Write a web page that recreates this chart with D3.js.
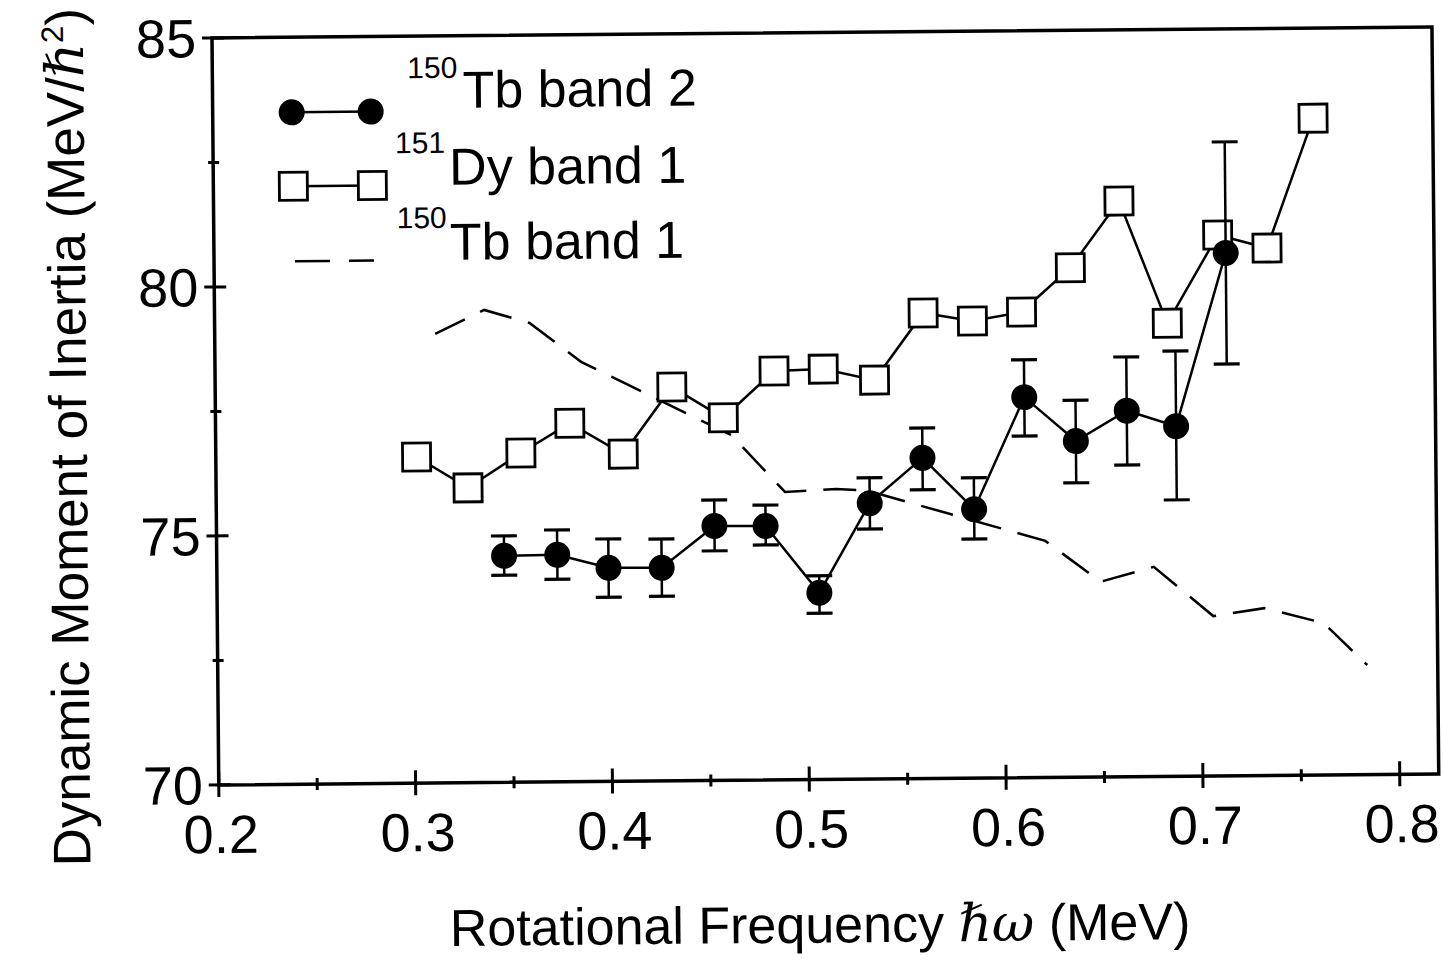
<!DOCTYPE html>
<html>
<head>
<meta charset="utf-8">
<script src="https://cdn.jsdelivr.net/npm/d3@7"></script>
<style>
  body { margin: 0; background: #fff; }
  text { font-family: "Liberation Sans", Arial, sans-serif; fill: #000; }
</style>
</head>
<body>
<div id="chart"></div>
<script>
//Datos
//151Dy band 1 (cuadrados)
const dyX = [0.302, 0.328, 0.355, 0.380, 0.407, 0.432, 0.458, 0.484, 0.509, 0.535, 0.560, 0.585, 0.610, 0.635, 0.660, 0.684, 0.710, 0.735, 0.759];
const dyY = [76.55, 75.92, 76.61, 77.20, 76.57, 77.91, 77.28, 78.21, 78.24, 78.01, 79.35, 79.18, 79.35, 80.23, 81.56, 79.10, 80.86, 80.59, 83.19];

//150Tb band 2 (círculos con barras de error)
const tb2X = [0.346, 0.373, 0.399, 0.426, 0.453, 0.479, 0.506, 0.532, 0.559, 0.585, 0.611, 0.637, 0.663, 0.688, 0.714];
const tb2Y = [74.55, 74.56, 74.29, 74.28, 75.11, 75.10, 73.75, 75.54, 76.44, 75.40, 77.64, 76.75, 77.35, 77.03, 80.50];
const tb2Hi = [74.95, 75.06, 74.87, 74.86, 75.63, 75.52, 74.09, 76.05, 77.04, 76.03, 78.39, 77.57, 78.43, 78.54, 82.73];
const tb2Lo = [74.16, 74.07, 73.70, 73.71, 74.61, 74.72, 73.34, 75.02, 75.80, 74.80, 76.86, 75.91, 76.26, 75.55, 78.27];

//150Tb band 1 (línea discontinua)
const tb1X = [0.312, 0.337, 0.360, 0.386, 0.462, 0.489, 0.515, 0.531, 0.621, 0.649, 0.676, 0.706, 0.732, 0.762, 0.784];
const tb1Y = [79.02, 79.49, 79.22, 78.43, 76.93, 75.78, 75.83, 75.79, 74.75, 73.92, 74.21, 73.21, 73.36, 73.05, 72.20];

//Ejes
const xMajor = [0.2, 0.3, 0.4, 0.5, 0.6, 0.7, 0.8];
const xMinor = [0.25, 0.35, 0.45, 0.55, 0.65, 0.75];
const yMajor = [70, 75, 80, 85];
const yMinor = [72.5, 77.5, 82.5];

const width = 1443, height = 960;
const plotW = 1220, plotH = 747;

let svg = d3.select('#chart')
    .append('svg')
        .attr('width', width)
        .attr('height', height);

//La figura escaneada está ligeramente girada
let g = svg.append('g')
    .attr('transform', 'translate(212,38) rotate(-0.52)');

let x = d3.scaleLinear().domain([0.2, 0.8]).range([0, 1181]);
let y = d3.scaleLinear().domain([70, 85]).range([plotH, 0]);

//Marco
g.append('rect')
    .attr('x', 0).attr('y', 0)
    .attr('width', plotW).attr('height', plotH)
    .attr('fill', 'none').attr('stroke', '#000').attr('stroke-width', 3.5);

//Marcas del eje X (cruzan el eje)
g.selectAll('.xmaj').data(xMajor).enter().append('line')
    .attr('x1', d => x(d)).attr('x2', d => x(d))
    .attr('y1', plotH - 13).attr('y2', plotH + 12)
    .attr('stroke', '#000').attr('stroke-width', 3);
g.selectAll('.xmin').data(xMinor).enter().append('line')
    .attr('x1', d => x(d)).attr('x2', d => x(d))
    .attr('y1', plotH - 6).attr('y2', plotH + 6)
    .attr('stroke', '#000').attr('stroke-width', 3);
g.selectAll('.xlab').data(xMajor).enter().append('text')
    .attr('x', d => x(d) + 2).attr('y', plotH + 68)
    .attr('text-anchor', 'middle')
    .style('font-size', '54px')
    .text(d => d.toFixed(1));

//Marcas del eje Y
g.selectAll('.ymaj').data(yMajor).enter().append('line')
    .attr('x1', -10).attr('x2', 12)
    .attr('y1', d => y(d)).attr('y2', d => y(d))
    .attr('stroke', '#000').attr('stroke-width', 3);
g.selectAll('.ymin').data(yMinor).enter().append('line')
    .attr('x1', -5).attr('x2', 6)
    .attr('y1', d => y(d)).attr('y2', d => y(d))
    .attr('stroke', '#000').attr('stroke-width', 3);
g.selectAll('.ylab').data(yMajor).enter().append('text')
    .attr('x', -16).attr('y', d => y(d) + 19)
    .attr('text-anchor', 'end')
    .style('font-size', '54px')
    .text(d => d);

//Títulos de ejes
let xt = g.append('text')
    .attr('x', 600).attr('y', 910)
    .attr('text-anchor', 'middle')
    .style('font-size', '52px');
xt.append('tspan').text('Rotational Frequency ');
xt.append('tspan').style('font-family', '"DejaVu Serif", serif').style('font-style', 'italic').text('ℏω');
xt.append('tspan').text(' (MeV)');

let yt = g.append('text')
    .attr('transform', 'translate(-129,398) rotate(-90)')
    .attr('text-anchor', 'middle')
    .style('font-size', '53px');
yt.append('tspan').text('Dynamic Moment of Inertia (MeV/');
yt.append('tspan').style('font-family', '"DejaVu Serif", serif').style('font-style', 'italic').text('ℏ');
yt.append('tspan').attr('dy', -20).style('font-size', '31px').text('2');
yt.append('tspan').attr('dy', 20).text(')');

//150Tb band 1
const tb1 = tb1X.map((d, i) => [d, tb1Y[i]]);
g.append('path')
    .datum(tb1)
    .attr('d', d3.line().x(d => x(d[0])).y(d => y(d[1])))
    .attr('fill', 'none').attr('stroke', '#000').attr('stroke-width', 2.5)
    .attr('stroke-dasharray', '33,17');

//151Dy band 1
const dy = dyX.map((d, i) => [d, dyY[i]]);
g.append('path')
    .datum(dy)
    .attr('d', d3.line().x(d => x(d[0])).y(d => y(d[1])))
    .attr('fill', 'none').attr('stroke', '#000').attr('stroke-width', 2.5);
const sq = 28;
g.selectAll('.sq').data(dy).enter().append('rect')
    .attr('x', d => x(d[0]) - sq / 2).attr('y', d => y(d[1]) - sq / 2)
    .attr('width', sq).attr('height', sq)
    .attr('fill', '#fff').attr('stroke', '#000').attr('stroke-width', 2.8);

//150Tb band 2
const tb2 = tb2X.map((d, i) => ({x: d, y: tb2Y[i], hi: tb2Hi[i], lo: tb2Lo[i]}));
g.append('path')
    .datum(tb2)
    .attr('d', d3.line().x(d => x(d.x)).y(d => y(d.y)))
    .attr('fill', 'none').attr('stroke', '#000').attr('stroke-width', 2.5);
g.selectAll('.err').data(tb2).enter().append('line')
    .attr('x1', d => x(d.x)).attr('x2', d => x(d.x))
    .attr('y1', d => y(d.hi)).attr('y2', d => y(d.lo))
    .attr('stroke', '#000').attr('stroke-width', 2.5);
['hi', 'lo'].forEach(function(k) {
    g.selectAll('.cap' + k).data(tb2).enter().append('line')
        .attr('x1', d => x(d.x) - 13).attr('x2', d => x(d.x) + 13)
        .attr('y1', d => y(d[k])).attr('y2', d => y(d[k]))
        .attr('stroke', '#000').attr('stroke-width', 3.2);
});
g.selectAll('.dot').data(tb2).enter().append('circle')
    .attr('cx', d => x(d.x)).attr('cy', d => y(d.y))
    .attr('r', 13).attr('fill', '#000');

//Leyenda
let lg = g.append('g');
lg.append('line').attr('x1', 79).attr('x2', 158).attr('y1', 75).attr('y2', 75)
    .attr('stroke', '#000').attr('stroke-width', 2.5);
lg.selectAll('.lc').data([79, 158]).enter().append('circle')
    .attr('cx', d => d).attr('cy', 75).attr('r', 13).attr('fill', '#000');
lg.append('line').attr('x1', 80).attr('x2', 159).attr('y1', 149).attr('y2', 149)
    .attr('stroke', '#000').attr('stroke-width', 2.5);
lg.selectAll('.ls').data([80, 159]).enter().append('rect')
    .attr('x', d => d - sq / 2).attr('y', 149 - sq / 2)
    .attr('width', sq).attr('height', sq)
    .attr('fill', '#fff').attr('stroke', '#000').attr('stroke-width', 2.8);
lg.append('line').attr('x1', 81).attr('x2', 160).attr('y1', 224).attr('y2', 224)
    .attr('stroke', '#000').attr('stroke-width', 2.5)
    .attr('stroke-dasharray', '35,19');

const legendItems = [
    {sup: '150', name: 'Tb band 2', sx: 195, sy: 42, nx: 250, ny: 72},
    {sup: '151', name: 'Dy band 1', sx: 182, sy: 117, nx: 236, ny: 149},
    {sup: '150', name: 'Tb band 1', sx: 183, sy: 192, nx: 236, ny: 224}
];
lg.selectAll('.lsup').data(legendItems).enter().append('text')
    .attr('x', d => d.sx).attr('y', d => d.sy)
    .style('font-size', '30px')
    .text(d => d.sup);
lg.selectAll('.lname').data(legendItems).enter().append('text')
    .attr('x', d => d.nx).attr('y', d => d.ny)
    .style('font-size', '52px')
    .text(d => d.name);
</script>
</body>
</html>
